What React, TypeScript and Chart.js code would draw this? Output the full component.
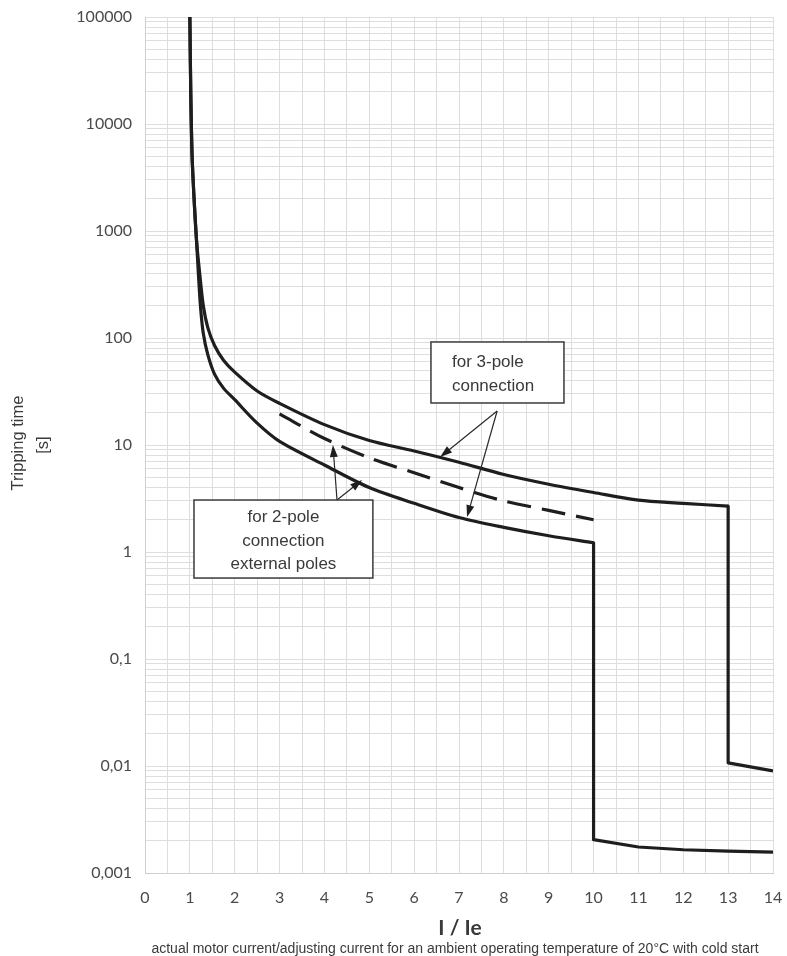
import React, { useEffect, useRef } from 'react';
import { Chart, registerables } from 'chart.js';

Chart.register(...registerables);

// ---- data ----
const commonX = [1.0, 1.02, 1.05, 1.1, 1.15];
const commonY = [100000, 20000, 5000, 1800, 800];

const threePoleX = [1.22, 1.3, 1.4, 1.55, 1.75, 2, 2.5, 3, 4, 5, 6, 7, 8, 9, 10, 11, 12, 13];
const threePoleY = [400, 200, 125, 85, 62, 48, 32, 24.5, 15.5, 11, 8.8, 6.9, 5.3, 4.3, 3.6, 3.05, 2.85, 2.68];
const threePoleTailX = [13, 13, 14];
const threePoleTailY = [2.68, 0.0107, 0.009];

const twoPoleX = [1.19, 1.24, 1.3, 1.4, 1.55, 1.75, 2, 2.5, 3, 4, 5, 6, 7, 8, 9, 10];
const twoPoleY = [400, 190, 110, 70, 46, 34, 26.5, 16, 10.8, 6.5, 4.0, 2.85, 2.1, 1.7, 1.42, 1.22];
const twoPoleTailX = [10, 10, 11, 12, 13, 14];
const twoPoleTailY = [1.22, 0.00205, 0.00175, 0.00165, 0.0016, 0.00157];

const dashedX = [3, 4, 5, 6, 7, 8, 9, 10];
const dashedY = [19.5, 11.5, 7.6, 5.5, 4.0, 3.0, 2.45, 2.0];

const yTickExponents = [-3, -2, -1, 0, 1, 2, 3, 4, 5];
const yTickLabels = ['0,001', '0,01', '0,1', '1', '10', '100', '1000', '10000', '100000'];

const xTitle = 'I / Ie';
const xNote = 'actual motor current/adjusting current for an ambient operating temperature of 20°C with cold start';
const yTitleLines = ['Tripping time', '[s]'];

const box3Lines = ['for 3-pole', 'connection'];
const box2Lines = ['for 2-pole', 'connection', 'external poles'];

// annotation anchors in data coordinates
const box3 = { x0: 6.375, x1: 9.34, yTop: 91.8, yBot: 24.7 };
const box2 = { x0: 1.092, x1: 5.08, yTop: 3.06, yBot: 0.571 };
const arrow3Start = { x: 7.85, y: 20.8 };
const arrow3Ends = [{ x: 6.58, y: 7.73 }, { x: 7.18, y: 2.12 }];
const arrow2Start = { x: 4.28, y: 3.06 };
const arrow2Ends = [{ x: 4.19, y: 10.0 }, { x: 4.84, y: 4.71 }];

const toPts = (xs: number[], ys: number[]) => xs.map((x, i) => ({ x, y: ys[i] }));

const LINE = '#1e1e1e';
const GRID = '#dedede';
const TEXT = '#3a3a3a';

function drawArrow(ctx: CanvasRenderingContext2D, x0: number, y0: number, x1: number, y1: number) {
  const ang = Math.atan2(y1 - y0, x1 - x0);
  const len = 12;
  const hw = 4;
  ctx.save();
  ctx.strokeStyle = '#2a2a2a';
  ctx.fillStyle = '#1e1e1e';
  ctx.lineWidth = 1.2;
  ctx.beginPath();
  ctx.moveTo(x0, y0);
  ctx.lineTo(x1 - Math.cos(ang) * len * 0.8, y1 - Math.sin(ang) * len * 0.8);
  ctx.stroke();
  ctx.beginPath();
  ctx.moveTo(x1, y1);
  ctx.lineTo(x1 - Math.cos(ang) * len - Math.sin(ang) * hw, y1 - Math.sin(ang) * len + Math.cos(ang) * hw);
  ctx.lineTo(x1 - Math.cos(ang) * len + Math.sin(ang) * hw, y1 - Math.sin(ang) * len - Math.cos(ang) * hw);
  ctx.closePath();
  ctx.fill();
  ctx.restore();
}

const annotationPlugin = {
  id: 'annotations',
  afterDatasetsDraw(chart: any) {
    const { ctx, scales, chartArea } = chart;
    const xs = scales.x;
    const ys = scales.y;
    const px = (v: number) => xs.getPixelForValue(v);
    const py = (v: number) => ys.getPixelForValue(v);

    const s3 = { x: px(arrow3Start.x), y: py(arrow3Start.y) };
    arrow3Ends.forEach((e) => drawArrow(ctx, s3.x, s3.y, px(e.x), py(e.y)));
    const s2 = { x: px(arrow2Start.x), y: py(arrow2Start.y) };
    arrow2Ends.forEach((e) => drawArrow(ctx, s2.x, s2.y, px(e.x), py(e.y)));

    const drawBox = (b: any, lines: string[], align: 'left' | 'center') => {
      const l = px(b.x0), r = px(b.x1), t = py(b.yTop), bt = py(b.yBot);
      ctx.save();
      ctx.fillStyle = '#ffffff';
      ctx.fillRect(l, t, r - l, bt - t);
      ctx.strokeStyle = '#3a3a3a';
      ctx.lineWidth = 1.5;
      ctx.strokeRect(l, t, r - l, bt - t);
      ctx.fillStyle = TEXT;
      ctx.font = '17px "Liberation Sans", Arial, sans-serif';
      ctx.textBaseline = 'middle';
      const lh = 23.5;
      const cy = (t + bt) / 2 + 2;
      lines.forEach((s, i) => {
        const y = cy + (i - (lines.length - 1) / 2) * lh;
        if (align === 'left') {
          ctx.textAlign = 'left';
          ctx.fillText(s, l + 21, y);
        } else {
          ctx.textAlign = 'center';
          ctx.fillText(s, (l + r) / 2, y);
        }
      });
      ctx.restore();
    };
    drawBox(box3, box3Lines, 'left');
    drawBox(box2, box2Lines, 'center');

    ctx.save();
    ctx.fillStyle = TEXT;
    ctx.textAlign = 'center';
    ctx.textBaseline = 'middle';
    const cx = (chartArea.left + chartArea.right) / 2;
    ctx.font = 'bold 21px Lato, "DejaVu Sans", sans-serif';
    ctx.fillText(xTitle, cx + 1, chartArea.bottom + 55);
    ctx.font = '14px "Liberation Sans", Arial, sans-serif';
    ctx.fillText(xNote, cx - 4, chartArea.bottom + 76, 613);
    ctx.restore();

    const cyT = (chartArea.top + chartArea.bottom) / 2;
    ctx.save();
    ctx.fillStyle = TEXT;
    ctx.textAlign = 'center';
    ctx.textBaseline = 'middle';
    ctx.font = '16.5px "Liberation Sans", Arial, sans-serif';
    ctx.translate(18, cyT - 2);
    ctx.rotate(-Math.PI / 2);
    ctx.fillText(yTitleLines[0], 0, 0, 98);
    ctx.restore();
    ctx.save();
    ctx.fillStyle = TEXT;
    ctx.textAlign = 'center';
    ctx.textBaseline = 'middle';
    ctx.font = '16.5px "Liberation Sans", Arial, sans-serif';
    ctx.translate(43, cyT);
    ctx.rotate(-Math.PI / 2);
    ctx.fillText(yTitleLines[1], 0, 0);
    ctx.restore();
  },
};

const zeroPadding = (s: any) => {
  s.paddingLeft = 0;
  s.paddingRight = 0;
  s.paddingTop = 0;
  s.paddingBottom = 0;
};

export default function App() {
  const ref = useRef<HTMLCanvasElement | null>(null);

  useEffect(() => {
    document.body.style.margin = '0';
    const canvas = ref.current;
    if (!canvas) return;

    const yTicks: { value: number; major: boolean }[] = [];
    for (let e = -3; e <= 4; e++) {
      for (let m = 1; m <= 9; m++) {
        yTicks.push({ value: m * Math.pow(10, e), major: m === 1 });
      }
    }
    yTicks.push({ value: 100000, major: true });

    const solid = {
      borderColor: LINE,
      borderWidth: 3.2,
      pointRadius: 0,
      fill: false,
      borderJoinStyle: 'round' as const,
    };

    const chart = new Chart(canvas, {
      type: 'line',
      data: {
        datasets: [
          {
            ...solid,
            label: '3-pole',
            data: toPts([...commonX, ...threePoleX], [...commonY, ...threePoleY]),
            tension: 0.3,
          },
          { ...solid, label: '3-pole tail', data: toPts(threePoleTailX, threePoleTailY), tension: 0 },
          {
            ...solid,
            label: '2-pole',
            data: toPts([...commonX, ...twoPoleX], [...commonY, ...twoPoleY]),
            tension: 0.3,
          },
          { ...solid, label: '2-pole tail', data: toPts(twoPoleTailX, twoPoleTailY), tension: 0 },
          {
            ...solid,
            label: '2-pole dashed',
            data: toPts(dashedX, dashedY),
            tension: 0.3,
            borderDash: [24, 11],
            borderCapStyle: 'butt',
          },
        ] as any,
      },
      options: {
        animation: false,
        responsive: false,
        devicePixelRatio: 1,
        layout: { padding: { top: 17, right: 14, left: 0, bottom: 0 } },
        plugins: {
          legend: { display: false },
          tooltip: { enabled: false },
          title: { display: false },
        },
        scales: {
          x: {
            type: 'linear',
            min: 0,
            max: 14,
            afterFit: (s: any) => {
              s.height = 83;
              zeroPadding(s);
            },
            grid: { color: GRID, lineWidth: 1, drawTicks: false },
            border: { color: '#cfcfcf' },
            ticks: {
              stepSize: 0.5,
              autoSkip: false,
              maxRotation: 0,
              padding: 15,
              color: '#4a4a4a',
              font: { family: 'Lato, "Noto Sans", sans-serif', size: 16 },
              callback: (v: any) => (Number.isInteger(v) ? String(v) : ''),
            },
          },
          y: {
            type: 'logarithmic',
            min: 0.001,
            max: 100000,
            afterFit: (s: any) => {
              s.width = 145;
              zeroPadding(s);
            },
            afterBuildTicks: (s: any) => {
              s.ticks = yTicks.map((t) => ({ ...t }));
            },
            grid: { color: GRID, lineWidth: 1, drawTicks: false },
            border: { color: '#cfcfcf' },
            ticks: {
              autoSkip: false,
              padding: 13,
              color: '#4a4a4a',
              font: { family: 'Lato, "Noto Sans", sans-serif', size: 16 },
              callback: (v: any) => {
                const lg = Math.log10(v);
                const e = Math.round(lg);
                if (Math.abs(lg - e) > 1e-6) return '';
                const idx = yTickExponents.indexOf(e);
                return idx >= 0 ? yTickLabels[idx] : '';
              },
            },
          },
        },
      } as any,
      plugins: [annotationPlugin],
    });

    return () => {
      chart.destroy();
    };
  }, []);

  return (
    <div style={{ width: 787, height: 956, background: '#fff' }}>
      <canvas ref={ref} width={787} height={956} style={{ display: 'block', width: 787, height: 956 }} />
    </div>
  );
}
